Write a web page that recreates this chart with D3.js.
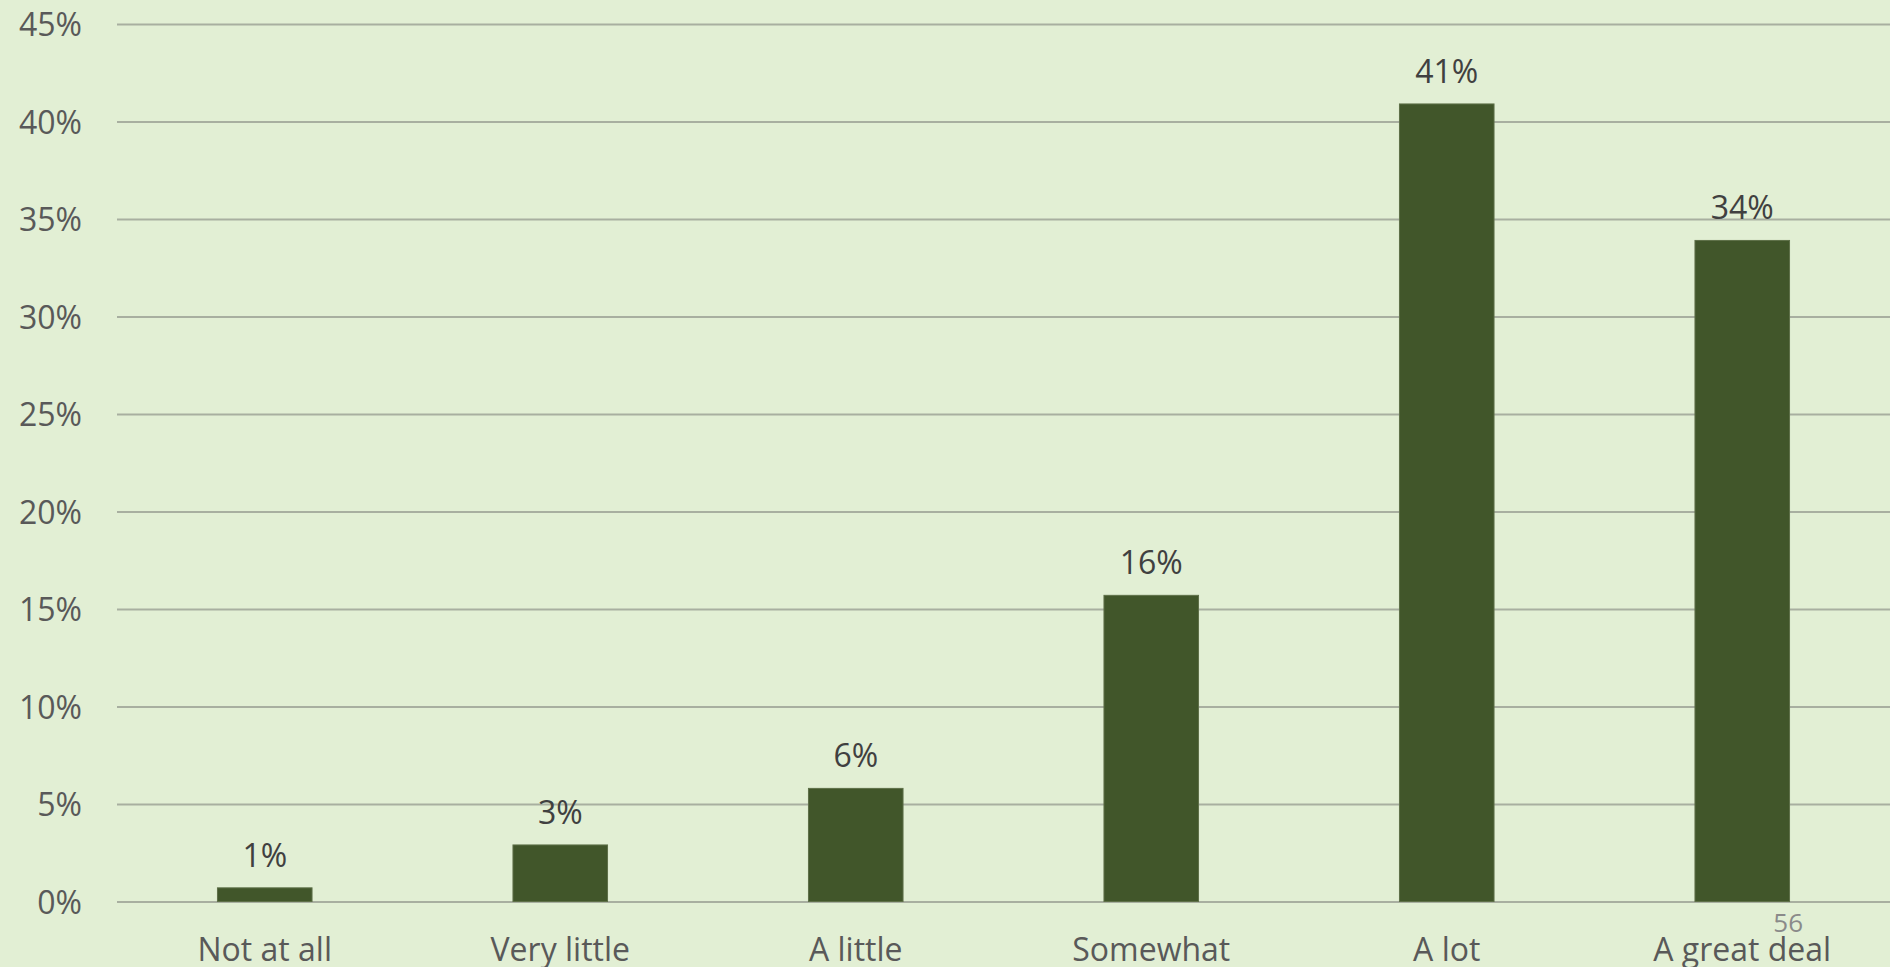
<!DOCTYPE html>
<html><head><meta charset="utf-8">
<script src="https://cdn.jsdelivr.net/npm/d3@7"></script>
<style>html,body{margin:0;padding:0;background:#E2EFD4;overflow:hidden}</style>
</head><body>
<svg id="chart" width="1890" height="967"></svg>
<script>
const categories = ["Not at all", "Very little", "A little", "Somewhat", "A lot", "A great deal"];
const values = [0.7, 2.9, 5.8, 15.7, 40.9, 33.9];
const labels = ["1%", "3%", "6%", "16%", "41%", "34%"];
const yTicks = [0, 5, 10, 15, 20, 25, 30, 35, 40, 45];
const pageNumber = "56";

const svg = d3.select("#chart");
svg.append("rect").attr("width", 1890).attr("height", 967).attr("fill", "#E2EFD4");

const plotLeft = 117, plotRight = 1890, plotTop = 24, plotBottom = 901.5;
const x = d3.scaleBand().domain(categories).range([plotLeft, plotRight]).paddingInner(0.68).paddingOuter(0.34);
const y = d3.scaleLinear().domain([0, 45]).range([plotBottom, plotTop]);

const font = "'Open Sans', sans-serif";

// gridlines
const yAxis = d3.axisLeft(y).tickValues(yTicks).tickFormat(d => d + "%").tickSize(-(plotRight - plotLeft)).tickPadding(35);
const gy = svg.append("g").attr("transform", `translate(${plotLeft},0)`).call(yAxis);
gy.select(".domain").remove();
gy.selectAll(".tick line").attr("stroke", "#A8AFA0").attr("stroke-width", 2);
gy.selectAll(".tick text").attr("fill", "#595959").attr("font-family", font).attr("font-size", 32).attr("dy", "0.36em");

// bars
svg.append("g").selectAll("rect").data(values).join("rect")
  .attr("x", (d, i) => x(categories[i]))
  .attr("y", d => y(d))
  .attr("width", x.bandwidth())
  .attr("height", d => y(0) - y(d))
  .attr("fill", "#41562A")
  .attr("stroke", "#5E7048").attr("stroke-width", 1);

// data labels
svg.append("g").selectAll("text").data(values).join("text")
  .attr("x", (d, i) => x(categories[i]) + x.bandwidth() / 2)
  .attr("y", d => y(d) - 21)
  .attr("text-anchor", "middle")
  .attr("fill", "#404040").attr("font-family", font).attr("font-size", 32)
  .text((d, i) => labels[i]);

// x axis labels
const xAxis = d3.axisBottom(x).tickSize(0).tickPadding(0);
const gx = svg.append("g").attr("transform", `translate(0,${plotBottom})`).call(xAxis);
gx.select(".domain").remove();
gx.selectAll(".tick text").attr("fill", "#595959").attr("font-family", font).attr("font-size", 32)
  .attr("y", 59).attr("dy", 0);

// page number
svg.append("text").attr("x", 1803).attr("y", 932).attr("text-anchor", "end")
  .attr("fill", "#8A8A8A").attr("font-family", font).attr("font-size", 26).text(pageNumber);
</script>
</body></html>
